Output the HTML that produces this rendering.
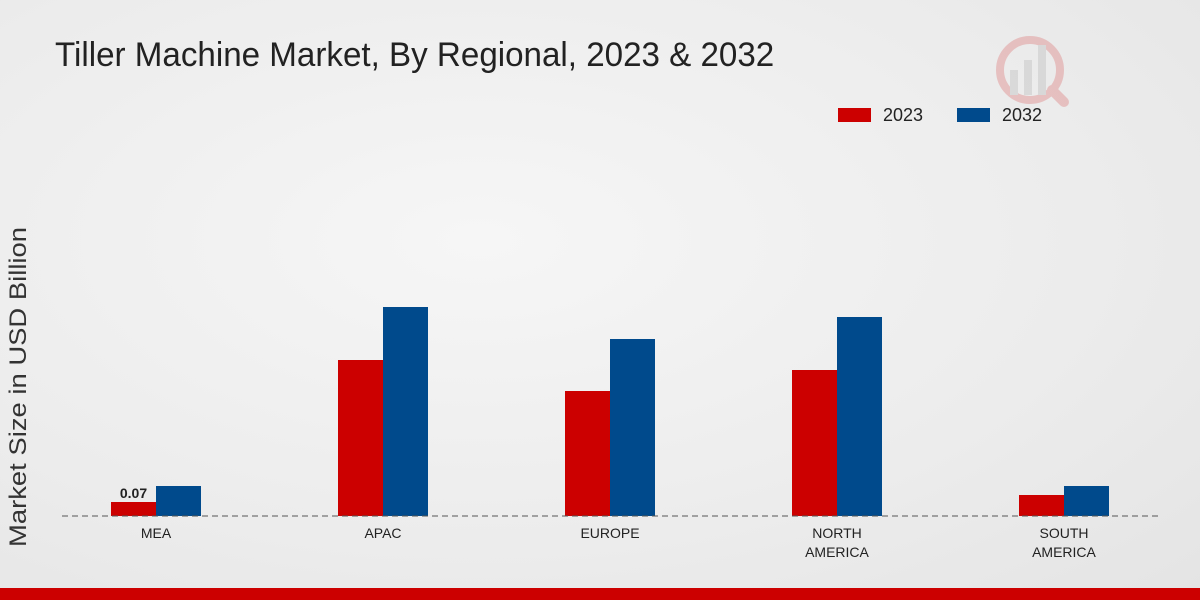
<!DOCTYPE html>
<html><head><meta charset="utf-8"><style>
html,body{margin:0;padding:0}
body{width:1200px;height:600px;overflow:hidden;background:radial-gradient(ellipse at 40% 40%,#f6f6f6 0%,#ececec 60%,#e4e4e4 100%);font-family:"Liberation Sans",sans-serif;position:relative}
</style></head><body>
<div style="position:absolute;left:55px;top:36px;font-size:34px;color:#222;transform:scaleX(0.975);transform-origin:left top;white-space:nowrap">Tiller Machine Market, By Regional, 2023 &amp; 2032</div>
<svg id="c" width="1200" height="600" style="position:absolute;left:0;top:0">
<g opacity="0.18">
<circle cx="1030" cy="70" r="30" fill="none" stroke="#c00" stroke-width="8"/>
<rect x="1010" y="70" width="8" height="25" fill="#888"/><rect x="1024" y="60" width="8" height="35" fill="#888"/><rect x="1038" y="45" width="8" height="50" fill="#888"/>
<line x1="1052" y1="90" x2="1064" y2="102" stroke="#c00" stroke-width="10" stroke-linecap="round"/>
</g>
<rect x="0" y="588" width="1200" height="12" fill="#cc0000"/>
<text transform="translate(26,387) rotate(-90)" text-anchor="middle" font-size="24" fill="#333" textLength="320" lengthAdjust="spacingAndGlyphs" font-family="Liberation Sans, sans-serif">Market Size in USD Billion</text>
<g>
<rect x="838" y="108" width="33" height="14" fill="#cc0000"/>
<text x="883" y="121" font-size="18" fill="#222" textLength="40">2023</text>
<rect x="957" y="108" width="33" height="14" fill="#004a8c"/>
<text x="1002" y="121" font-size="18" fill="#222" textLength="40">2032</text>
</g>
<g id="bars"></g>
<line x1="62" y1="516" x2="1160" y2="516" stroke="#555" stroke-dasharray="6,4" stroke-width="1"/>
</svg>
<script>
const categories=[["MEA"],["APAC"],["EUROPE"],["NORTH","AMERICA"],["SOUTH","AMERICA"]];
const values2023=[0.07,0.78,0.625,0.73,0.105];
const values2032=[0.15,1.045,0.885,0.995,0.15];
const base=516, pxPer=200, x0=156, step=227, bw=45;
const y=v=>base-v*pxPer;
const g=document.getElementById('bars');
const ns='http://www.w3.org/2000/svg';
categories.forEach((c,i)=>{
  const cx=x0+i*step;
  [[values2023,'#cc0000',cx-bw,'2023'],[values2032,'#004a8c',cx,'2032']].forEach(([arr,col,x,yr])=>{
    const r=document.createElementNS(ns,'rect');
    r.setAttribute('x',x);r.setAttribute('y',y(arr[i]));r.setAttribute('width',bw);r.setAttribute('height',base-y(arr[i]));r.setAttribute('fill',col);
    
    
    g.appendChild(r);
  });
  c.forEach((l,j)=>{
    const t=document.createElementNS(ns,'text');
    t.setAttribute('x',cx);t.setAttribute('y',538+j*19);t.setAttribute('text-anchor','middle');t.setAttribute('font-size','14');t.setAttribute('fill','#222');
    t.textContent=l;
    
    
    g.appendChild(t);
  });
});
const lb=document.createElementNS(ns,'text');
lb.setAttribute('x',x0-bw/2);lb.setAttribute('y',y(values2023[0])-4);lb.setAttribute('text-anchor','middle');lb.setAttribute('font-size','14');lb.setAttribute('font-weight','bold');lb.setAttribute('fill','#222');
lb.textContent=values2023[0].toFixed(2);


g.appendChild(lb);
</script>
</body></html>
